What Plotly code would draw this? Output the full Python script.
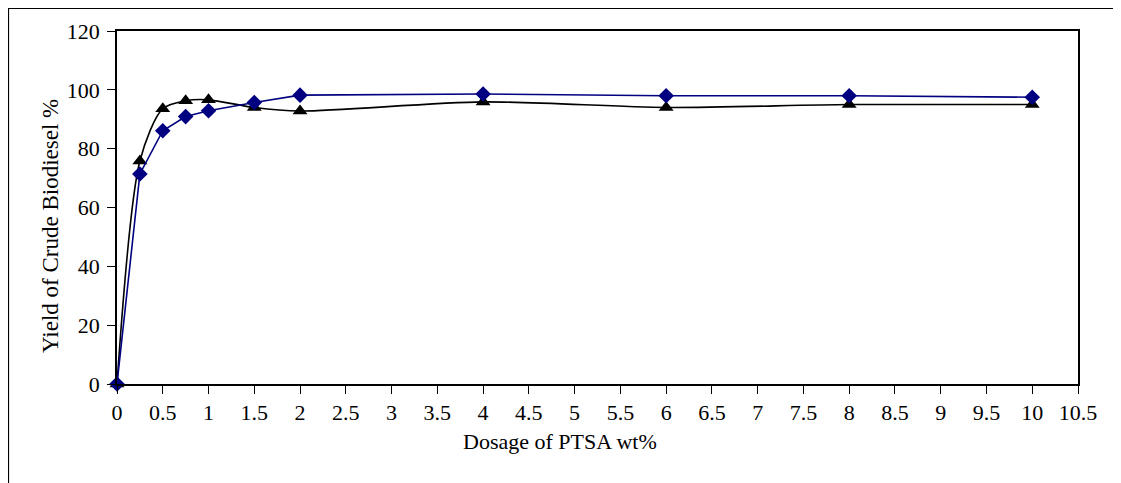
import plotly.graph_objects as go

dosage = [0, 0.25, 0.5, 0.75, 1, 1.5, 2, 4, 6, 8, 10]
yield_blue = [0, 71.4, 86.1, 90.9, 92.9, 95.7, 98.2, 98.6, 98.0, 98.0, 97.5]
yield_black = [0, 75.8, 93.6, 96.3, 96.6, 94.0, 92.8, 95.9, 94.0, 95.0, 95.0]
x_ticks = [i * 0.5 for i in range(22)]
x_tick_labels = [("%g" % v) for v in x_ticks]
y_ticks = [0, 20, 40, 60, 80, 100, 120]
x_title = "Dosage of PTSA wt%"
y_title = "Yield of Crude Biodiesel %"

FONT = "Liberation Serif, Times New Roman, serif"

fig = go.Figure()
fig.add_trace(go.Scatter(
    x=dosage, y=yield_black, mode="lines+markers",
    line=dict(color="black", width=1.6, shape="spline", smoothing=0.8),
    marker=dict(symbol="triangle-up", size=13, color="black"),
    showlegend=False, cliponaxis=False))
fig.add_trace(go.Scatter(
    x=dosage, y=yield_blue, mode="lines+markers",
    line=dict(color="#000080", width=1.6),
    marker=dict(symbol="diamond", size=12, color="#000080"),
    showlegend=False, cliponaxis=False))

# page body adds ~8px offset; compensate
OFF = 8
L, R, T, B = 117 - OFF, 1078 - OFF, 31 - OFF, 384 - OFF
W, H = 1121 - OFF, 483 - OFF
pw, ph = R - L, B - T

def px_x(sx):
    return (sx - OFF - L) / pw

def px_y(sy):
    return (B - (sy - OFF)) / ph

fig.update_layout(
    width=W, height=H,
    margin=dict(l=L, r=W - R, t=T, b=H - B, pad=0),
    paper_bgcolor="white", plot_bgcolor="white",
    font=dict(family=FONT, size=22, color="black"),
    xaxis=dict(range=[0, 10.5], tickvals=x_ticks, ticktext=x_tick_labels,
               ticks="outside", ticklen=8, tickcolor="black", tickwidth=1,
               showgrid=False, zeroline=False, showline=True, linecolor="black",
               linewidth=1.5, mirror=True, ticklabelstandoff=0,
               tickfont=dict(family=FONT, size=22, color="black")),
    yaxis=dict(range=[0, 120], tickvals=y_ticks,
               ticks="outside", ticklen=8, tickcolor="black", tickwidth=1,
               showgrid=False, zeroline=False, showline=True, linecolor="black",
               linewidth=1.5, mirror=True, ticklabelstandoff=3,
               tickfont=dict(family=FONT, size=22, color="black")),
)

# axis titles placed as in the reference (slightly off-centre)
fig.add_annotation(text=x_title, xref="paper", yref="paper",
                   x=px_x(560), y=px_y(441), xanchor="center", yanchor="middle",
                   showarrow=False, font=dict(family=FONT, size=22, color="black"))
fig.add_annotation(text=y_title, xref="paper", yref="paper", textangle=-90,
                   x=px_x(50), y=px_y(226), xanchor="center", yanchor="middle",
                   showarrow=False, font=dict(family=FONT, size=23, color="black"))

# outer chart frame (only left and top edges fall inside the picture)
fig.add_shape(type="rect", xref="paper", yref="paper",
              x0=(0.5 - L) / pw, x1=(1300 - L) / pw,
              y0=(B - 700) / ph, y1=(B - 0.5) / ph,
              line=dict(color="black", width=1.2), fillcolor="rgba(0,0,0,0)", layer="below")

fig.write_html("out.html")
